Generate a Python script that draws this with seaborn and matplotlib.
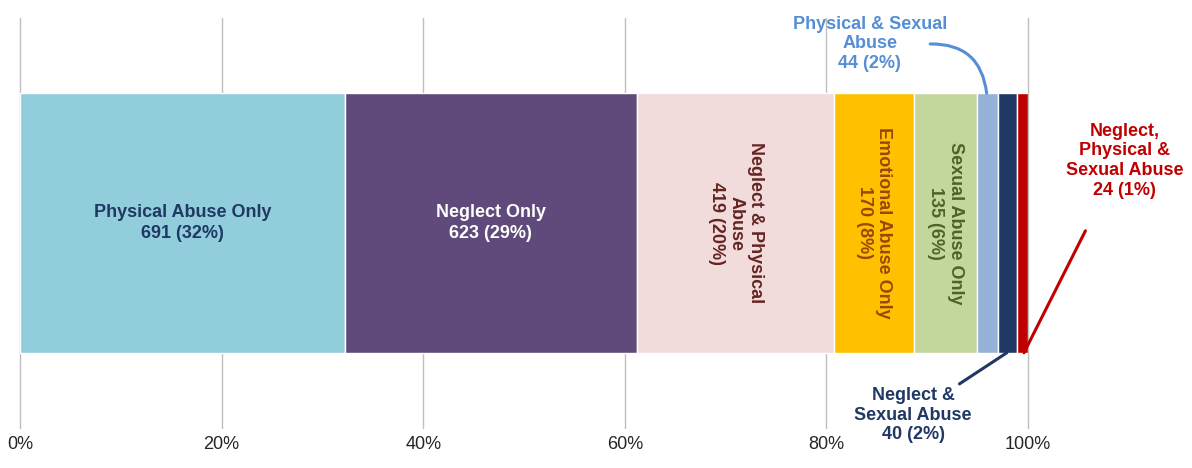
import matplotlib
matplotlib.use("Agg")
import matplotlib.pyplot as plt
import seaborn as sns

categorias = ["Physical Abuse Only", "Neglect Only", "Neglect & Physical\nAbuse",
              "Emotional Abuse Only", "Sexual Abuse Only", "Physical & Sexual\nAbuse",
              "Neglect &\nSexual Abuse", "Neglect,\nPhysical &\nSexual Abuse"]
conteos = [691, 623, 419, 170, 135, 44, 40, 24]
pcts = [32, 29, 20, 8, 6, 2, 2, 1]
colores = ["#92CDDC", "#604A7B", "#F2DCDB", "#FFC000", "#C3D69B", "#95B3D7", "#1F3864", "#C00000"]
colores_texto = ["#1F3864", "white", "#632523", "#984807", "#4F6228", "#558ED5", "#1F3864", "#C00000"]
ticks = [0, 20, 40, 60, 80, 100]

sns.set_style("white")
plt.rcParams['font.family'] = ['Liberation Sans', 'DejaVu Sans']

total = sum(conteos)
partes = [100 * c / total for c in conteos]

fig = plt.figure(figsize=(11.92, 4.68), dpi=100)
ax = fig.add_axes([20 / 1192, 40 / 468, 1008 / 1192, 410 / 468])

for t in ticks:
    ax.axvline(t, color="#BFBFBF", lw=1, zorder=0, clip_on=False)

izq = 0
for i, p in enumerate(partes):
    ax.barh(0, p, left=izq, height=1, color=colores[i], edgecolor="white", lw=1, zorder=2)
    centro = izq + p / 2
    etiqueta = f"{categorias[i]}\n{conteos[i]} ({pcts[i]}%)"
    if i < 2:
        ax.text(centro, 0, etiqueta, ha="center", va="center", color=colores_texto[i],
                fontsize=13, fontweight="bold", linespacing=1.25)
    elif i < 5:
        ax.text(centro, 0, etiqueta, ha="center", va="center", color=colores_texto[i],
                fontsize=13, fontweight="bold", rotation=-90, linespacing=1.2)
    izq += p

# etiquetas externas
kw = dict(ha="center", va="center", fontsize=13, fontweight="bold", clip_on=False, linespacing=1.2)
ax.text(84.3, 0.69, f"{categorias[5]}\n{conteos[5]} ({pcts[5]}%)", color=colores_texto[5], **kw)
ax.text(88.6, -0.74, f"{categorias[6]}\n{conteos[6]} ({pcts[6]}%)", color=colores_texto[6], **kw)
ax.text(109.6, 0.24, f"{categorias[7]}\n{conteos[7]} ({pcts[7]}%)", color=colores_texto[7], **kw)

# lineas guia
ax.annotate("", xy=(95.9, 0.5), xytext=(90.3, 0.69), annotation_clip=False,
            arrowprops=dict(arrowstyle="-", color=colores_texto[5], lw=2.2,
                            connectionstyle="arc3,rad=-0.45", shrinkA=0, shrinkB=0))
ax.annotate("", xy=(97.9, -0.5), xytext=(93.2, -0.62), annotation_clip=False,
            arrowprops=dict(arrowstyle="-", color=colores_texto[6], lw=2.2, shrinkA=0, shrinkB=0))
ax.annotate("", xy=(99.6, -0.5), xytext=(105.7, -0.03), annotation_clip=False,
            arrowprops=dict(arrowstyle="-", color=colores_texto[7], lw=2.2, shrinkA=0, shrinkB=0))

ax.set_xlim(0, 100)
ax.set_ylim(-0.79, 0.79)
ax.set_xticks(ticks)
ax.set_xticklabels([f"{t}%" for t in ticks], fontsize=13)
ax.set_yticks([])
ax.tick_params(axis="x", length=0, pad=6)
sns.despine(ax=ax, left=True, bottom=True)

fig.savefig("out.png", dpi=100)
